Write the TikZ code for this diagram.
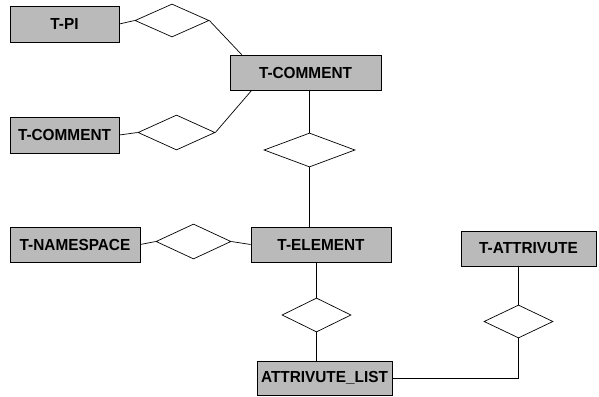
\documentclass[tikz,border=0pt]{standalone}
\usepackage{fontspec}
\usetikzlibrary{shapes.geometric}
\newfontfamily\erfont[FakeStretch=0.96]{Liberation Sans}
\colorlet{boxgray}{black!27}

\begin{document}
\begin{tikzpicture}[
        x=1pt, y=-1pt,
        line width=0.7pt,
        entity/.style={draw, fill=boxgray, inner sep=0pt,
            font=\erfont\bfseries\fontsize{16}{16}\selectfont},
        rel/.style={draw, diamond, fill=white, inner sep=0pt}
    ]
    \useasboundingbox (0,0) rectangle (599,396);
    \node[entity, minimum width=109pt, minimum height=36pt] (pi) at (64.5,24) {T-PI};
    \node[entity, minimum width=151pt, minimum height=35pt] (cmt) at (305.5,72.5) {T-COMMENT};
    \node[entity, minimum width=109pt, minimum height=36pt] (cmtl) at (64.5,135) {T-COMMENT};
    \node[entity, minimum width=130pt, minimum height=35pt] (ns) at (75,244.5) {T-NAMESPACE};
    \node[entity, minimum width=140pt, minimum height=35pt] (elem) at (321,244.5) {T-ELEMENT};
    \node[entity, minimum width=135pt, minimum height=35pt] (attr) at (528.5,248.5) {T-ATTRIVUTE};
    \node[entity, minimum width=135pt, minimum height=34pt] (alist) at (324.5,378) {ATTRIVUTE\_LIST};

    \node[rel, minimum width=74pt, minimum height=33pt] (pirel) at (172,20.5) {};
    \node[rel, minimum width=77pt, minimum height=35pt] (cmtrel) at (176.5,132.5) {};
    \node[rel, minimum width=91pt, minimum height=34pt] (elemrel) at (309.5,150) {};
    \node[rel, minimum width=75pt, minimum height=35pt] (nsrel) at (193.5,241.5) {};
    \node[rel, minimum width=69pt, minimum height=34pt] (listrel) at (316.5,315) {};
    \node[rel, minimum width=69pt, minimum height=33pt] (attrrel) at (518.5,321.5) {};

    \draw (pi.east) -- (pirel.west);
    \draw (pirel.east) -- ([xshift=12pt]cmt.north west);
    \draw (cmtl.east) -- (cmtrel.west);
    \draw (cmtrel.east) -- ([xshift=22pt]cmt.south west);
    \draw (elemrel.north |- cmt.south) -- (elemrel.north);
    \draw (elemrel.south) -- (elemrel.south |- elem.north);
    \draw (ns.east) -- (nsrel.west);
    \draw (nsrel.east) -- (elem.west);
    \draw (listrel.north |- elem.south) -- (listrel.north);
    \draw (listrel.south) -- (listrel.south |- alist.north);
    \draw (attrrel.north |- attr.south) -- (attrrel.north);
    \draw (attrrel.south) |- (alist.east);
\end{tikzpicture}
\end{document}
